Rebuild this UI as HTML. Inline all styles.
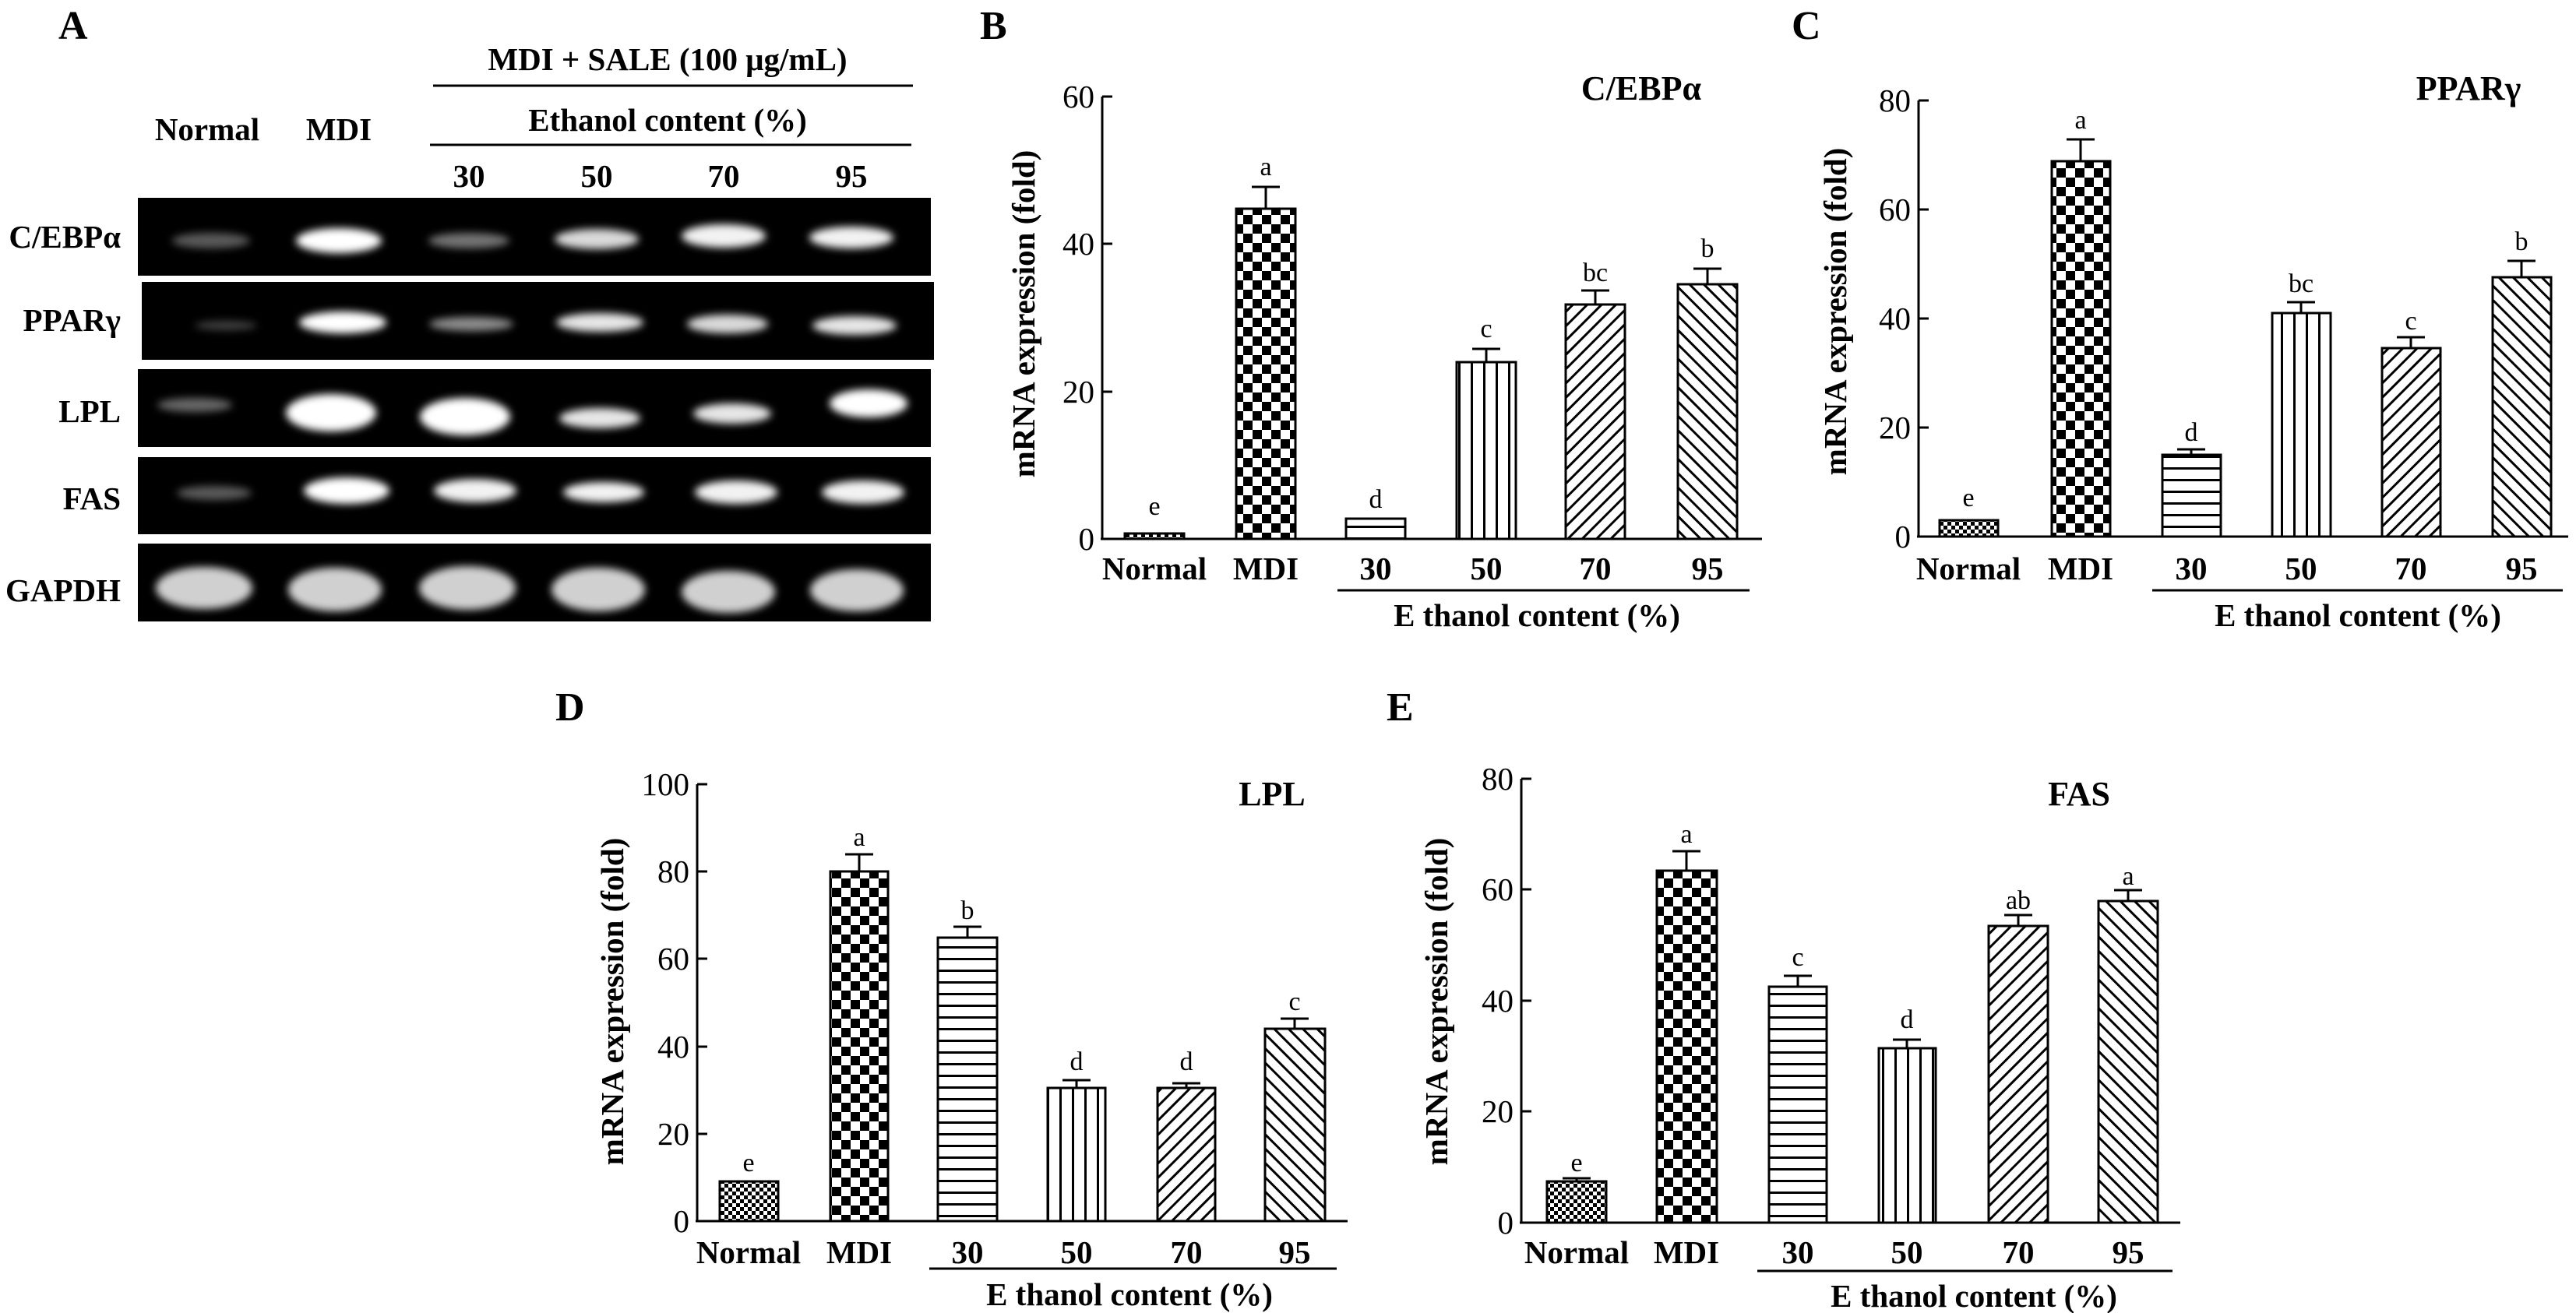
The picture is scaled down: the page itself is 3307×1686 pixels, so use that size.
<!DOCTYPE html>
<html><head><meta charset="utf-8"><style>
html,body{margin:0;padding:0;background:#fff}
svg{display:block}
text{font-family:"Liberation Serif",serif;fill:#000}
.t{font-size:41px}
.b{font-weight:bold}
</style></head><body>
<svg width="3307" height="1686" viewBox="0 0 3307 1686" xmlns="http://www.w3.org/2000/svg">
<defs>
<pattern id="chk" width="24" height="24" patternUnits="userSpaceOnUse"><rect width="24" height="24" fill="#fff"/><rect width="12" height="12" fill="#000"/><rect x="12" y="12" width="12" height="12" fill="#000"/></pattern>
<pattern id="chs" width="10" height="10" patternUnits="userSpaceOnUse"><rect width="10" height="10" fill="#fff"/><rect width="5" height="5" fill="#000"/><rect x="5" y="5" width="5" height="5" fill="#000"/></pattern>
<pattern id="hl" width="20" height="15" patternUnits="userSpaceOnUse"><rect width="20" height="15" fill="#fff"/><rect y="0" width="20" height="3" fill="#000"/></pattern>
<pattern id="vl" width="16" height="20" patternUnits="userSpaceOnUse"><rect width="16" height="20" fill="#fff"/><rect x="0" width="3" height="20" fill="#000"/></pattern>
<pattern id="d1" width="13" height="13" patternUnits="userSpaceOnUse" patternTransform="rotate(45)"><rect width="13" height="13" fill="#fff"/><rect width="3" height="13" fill="#000"/></pattern>
<pattern id="d2" width="13" height="13" patternUnits="userSpaceOnUse" patternTransform="rotate(-45)"><rect width="13" height="13" fill="#fff"/><rect width="3" height="13" fill="#000"/></pattern>
<filter id="bl" x="-30%" y="-60%" width="160%" height="220%"><feGaussianBlur stdDeviation="5"/></filter>
</defs>

<!-- Panel A -->
<text x="75" y="50" font-size="52" class="b">A</text>
<text x="857" y="90" class="t b" text-anchor="middle">MDI + SALE (100 μg/mL)</text>
<line x1="556" y1="110" x2="1172" y2="110" stroke="#000" stroke-width="3"/>
<text x="857" y="168" class="t b" text-anchor="middle">Ethanol content (%)</text>
<line x1="552" y1="186" x2="1170" y2="186" stroke="#000" stroke-width="3"/>
<text x="266" y="180" class="t b" text-anchor="middle">Normal</text>
<text x="435" y="180" class="t b" text-anchor="middle">MDI</text>
<text x="602" y="240" class="t b" text-anchor="middle">30</text>
<text x="766" y="240" class="t b" text-anchor="middle">50</text>
<text x="929" y="240" class="t b" text-anchor="middle">70</text>
<text x="1093" y="240" class="t b" text-anchor="middle">95</text>
<g class="t b" text-anchor="end">
<text x="155" y="318">C/EBPα</text>
<text x="155" y="425">PPARγ</text>
<text x="155" y="542">LPL</text>
<text x="155" y="654">FAS</text>
<text x="155" y="772">GAPDH</text>
</g>
<rect x="177" y="254" width="1018" height="100" fill="#000"/>
<rect x="182" y="362" width="1017" height="100" fill="#000"/>
<rect x="177" y="474" width="1018" height="100" fill="#000"/>
<rect x="177" y="587" width="1018" height="99" fill="#000"/>
<rect x="177" y="698" width="1018" height="100" fill="#000"/>
<g filter="url(#bl)" fill="#fff">
<ellipse cx="271" cy="309" rx="50" ry="10" opacity="0.35"/>
<ellipse cx="435" cy="309" rx="55" ry="16"/>
<ellipse cx="602" cy="309" rx="52" ry="10" opacity="0.45"/>
<ellipse cx="766" cy="307" rx="54" ry="13" opacity="0.85"/>
<ellipse cx="929" cy="303" rx="54" ry="15" opacity="0.95"/>
<ellipse cx="1093" cy="305" rx="54" ry="14" opacity="0.95"/>
<ellipse cx="290" cy="418" rx="40" ry="6" opacity="0.25"/>
<ellipse cx="440" cy="414" rx="56" ry="14"/>
<ellipse cx="605" cy="416" rx="54" ry="9" opacity="0.55"/>
<ellipse cx="770" cy="414" rx="56" ry="12" opacity="0.9"/>
<ellipse cx="934" cy="416" rx="52" ry="12" opacity="0.85"/>
<ellipse cx="1097" cy="418" rx="54" ry="12" opacity="0.9"/>
<ellipse cx="250" cy="520" rx="48" ry="9" opacity="0.4"/>
<ellipse cx="425" cy="530" rx="58" ry="24"/>
<ellipse cx="597" cy="535" rx="58" ry="24"/>
<ellipse cx="770" cy="537" rx="52" ry="13" opacity="0.9"/>
<ellipse cx="940" cy="531" rx="50" ry="13" opacity="0.9"/>
<ellipse cx="1115" cy="518" rx="50" ry="18"/>
<ellipse cx="275" cy="633" rx="48" ry="9" opacity="0.35"/>
<ellipse cx="445" cy="630" rx="55" ry="17"/>
<ellipse cx="610" cy="630" rx="53" ry="15" opacity="0.95"/>
<ellipse cx="775" cy="632" rx="52" ry="13" opacity="0.95"/>
<ellipse cx="945" cy="632" rx="53" ry="15" opacity="0.95"/>
<ellipse cx="1108" cy="632" rx="53" ry="15" opacity="0.95"/>
</g>
<g fill="#d0d0d0" filter="url(#bl)">
<ellipse cx="262" cy="755" rx="62" ry="27"/>
<ellipse cx="430" cy="757" rx="60" ry="28"/>
<ellipse cx="600" cy="755" rx="62" ry="28"/>
<ellipse cx="768" cy="757" rx="60" ry="28"/>
<ellipse cx="935" cy="760" rx="60" ry="27"/>
<ellipse cx="1100" cy="758" rx="60" ry="27"/>
</g>

<!-- Panel B -->
<text x="1258" y="50" font-size="52" class="b">B</text>
<text x="2107" y="128" font-size="44" text-anchor="middle" class="b">C/EBPα</text>
<text transform="translate(1328,403) rotate(-90)" class="t b" text-anchor="middle">mRNA expression (fold)</text>
<g stroke="#000" stroke-width="3">
<line x1="1415" y1="124" x2="1415" y2="692"/><line x1="1413" y1="692" x2="2262" y2="692"/>
<line x1="1415" y1="124" x2="1428" y2="124"/><line x1="1415" y1="313" x2="1428" y2="313"/><line x1="1415" y1="503" x2="1428" y2="503"/>
</g>
<g class="t" text-anchor="end"><text x="1405" y="138">60</text><text x="1405" y="327">40</text><text x="1405" y="517">20</text><text x="1405" y="706">0</text></g>
<g stroke="#000" stroke-width="3">
<rect x="1444" y="685" width="76" height="7" fill="url(#chs)"/>
<line x1="1625" y1="268" x2="1625" y2="240"/><line x1="1607" y1="240" x2="1643" y2="240"/>
<rect x="1587" y="268" width="76" height="424" fill="url(#chk)"/>
<rect x="1728" y="666" width="76" height="26" fill="url(#hl)"/>
<line x1="1908" y1="465" x2="1908" y2="448"/><line x1="1890" y1="448" x2="1926" y2="448"/>
<rect x="1870" y="465" width="76" height="227" fill="url(#vl)"/>
<line x1="2048" y1="391" x2="2048" y2="373"/><line x1="2030" y1="373" x2="2066" y2="373"/>
<rect x="2010" y="391" width="76" height="301" fill="url(#d1)"/>
<line x1="2192" y1="365" x2="2192" y2="345"/><line x1="2174" y1="345" x2="2210" y2="345"/>
<rect x="2154" y="365" width="76" height="327" fill="url(#d2)"/>
</g>
<g font-size="34" text-anchor="middle"><text x="1482" y="661">e</text><text x="1625" y="225">a</text><text x="1766" y="652">d</text><text x="1908" y="433">c</text><text x="2048" y="361">bc</text><text x="2192" y="330">b</text></g>
<g class="t b" text-anchor="middle"><text x="1482" y="744">Normal</text><text x="1625" y="744">MDI</text><text x="1766" y="744">30</text><text x="1908" y="744">50</text><text x="2048" y="744">70</text><text x="2192" y="744">95</text></g>
<line x1="1717" y1="758" x2="2246" y2="758" stroke="#000" stroke-width="3"/>
<text x="1973" y="804" class="t b" text-anchor="middle">E thanol content (%)</text>

<!-- Panel C -->
<text x="2300" y="50" font-size="52" class="b">C</text>
<text x="3169" y="128" font-size="44" text-anchor="middle" class="b">PPARγ</text>
<text transform="translate(2370,400) rotate(-90)" class="t b" text-anchor="middle">mRNA expression (fold)</text>
<g stroke="#000" stroke-width="3">
<line x1="2463" y1="129" x2="2463" y2="689"/><line x1="2461" y1="689" x2="3297" y2="689"/>
<line x1="2463" y1="129" x2="2476" y2="129"/><line x1="2463" y1="269" x2="2476" y2="269"/><line x1="2463" y1="409" x2="2476" y2="409"/><line x1="2463" y1="549" x2="2476" y2="549"/>
</g>
<g class="t" text-anchor="end"><text x="2453" y="143">80</text><text x="2453" y="283">60</text><text x="2453" y="423">40</text><text x="2453" y="563">20</text><text x="2453" y="703">0</text></g>
<g stroke="#000" stroke-width="3">
<rect x="2490" y="668" width="75" height="21" fill="url(#chs)"/>
<line x1="2671" y1="207" x2="2671" y2="179"/><line x1="2653" y1="179" x2="2689" y2="179"/>
<rect x="2634" y="207" width="75" height="482" fill="url(#chk)"/>
<line x1="2813" y1="584" x2="2813" y2="577"/><line x1="2795" y1="577" x2="2831" y2="577"/>
<rect x="2776" y="584" width="75" height="105" fill="url(#hl)"/>
<line x1="2954" y1="402" x2="2954" y2="388"/><line x1="2936" y1="388" x2="2972" y2="388"/>
<rect x="2917" y="402" width="75" height="287" fill="url(#vl)"/>
<line x1="3095" y1="447" x2="3095" y2="433"/><line x1="3077" y1="433" x2="3113" y2="433"/>
<rect x="3058" y="447" width="75" height="242" fill="url(#d1)"/>
<line x1="3237" y1="356" x2="3237" y2="335"/><line x1="3219" y1="335" x2="3255" y2="335"/>
<rect x="3200" y="356" width="75" height="333" fill="url(#d2)"/>
</g>
<g font-size="34" text-anchor="middle"><text x="2527" y="650">e</text><text x="2671" y="165">a</text><text x="2813" y="566">d</text><text x="2954" y="375">bc</text><text x="3095" y="423">c</text><text x="3237" y="321">b</text></g>
<g class="t b" text-anchor="middle"><text x="2527" y="744">Normal</text><text x="2671" y="744">MDI</text><text x="2813" y="744">30</text><text x="2954" y="744">50</text><text x="3095" y="744">70</text><text x="3237" y="744">95</text></g>
<line x1="2763" y1="758" x2="3290" y2="758" stroke="#000" stroke-width="3"/>
<text x="3027" y="804" class="t b" text-anchor="middle">E thanol content (%)</text>

<!-- Panel D -->
<text x="713" y="925" font-size="52" class="b">D</text>
<text x="1633" y="1034" font-size="44" text-anchor="middle" class="b">LPL</text>
<text transform="translate(800,1286) rotate(-90)" class="t b" text-anchor="middle">mRNA expression (fold)</text>
<g stroke="#000" stroke-width="3">
<line x1="895" y1="1007" x2="895" y2="1568"/><line x1="893" y1="1568" x2="1730" y2="1568"/>
<line x1="895" y1="1007" x2="908" y2="1007"/><line x1="895" y1="1119" x2="908" y2="1119"/><line x1="895" y1="1231" x2="908" y2="1231"/><line x1="895" y1="1344" x2="908" y2="1344"/><line x1="895" y1="1456" x2="908" y2="1456"/>
</g>
<g class="t" text-anchor="end"><text x="885" y="1021">100</text><text x="885" y="1133">80</text><text x="885" y="1245">60</text><text x="885" y="1358">40</text><text x="885" y="1470">20</text><text x="885" y="1582">0</text></g>
<g stroke="#000" stroke-width="3">
<rect x="924" y="1517" width="75" height="51" fill="url(#chs)"/>
<line x1="1103" y1="1119" x2="1103" y2="1097"/><line x1="1085" y1="1097" x2="1121" y2="1097"/>
<rect x="1066" y="1119" width="74" height="449" fill="url(#chk)"/>
<line x1="1242" y1="1204" x2="1242" y2="1190"/><line x1="1224" y1="1190" x2="1260" y2="1190"/>
<rect x="1204" y="1204" width="76" height="364" fill="url(#hl)"/>
<line x1="1382" y1="1397" x2="1382" y2="1387"/><line x1="1364" y1="1387" x2="1400" y2="1387"/>
<rect x="1345" y="1397" width="74" height="171" fill="url(#vl)"/>
<line x1="1523" y1="1397" x2="1523" y2="1391"/><line x1="1505" y1="1391" x2="1541" y2="1391"/>
<rect x="1486" y="1397" width="74" height="171" fill="url(#d1)"/>
<line x1="1662" y1="1321" x2="1662" y2="1308"/><line x1="1644" y1="1308" x2="1680" y2="1308"/>
<rect x="1624" y="1321" width="77" height="247" fill="url(#d2)"/>
</g>
<g font-size="34" text-anchor="middle"><text x="961" y="1504">e</text><text x="1103" y="1086">a</text><text x="1242" y="1180">b</text><text x="1382" y="1374">d</text><text x="1523" y="1374">d</text><text x="1662" y="1297">c</text></g>
<g class="t b" text-anchor="middle"><text x="961" y="1622">Normal</text><text x="1103" y="1622">MDI</text><text x="1242" y="1622">30</text><text x="1382" y="1622">50</text><text x="1523" y="1622">70</text><text x="1662" y="1622">95</text></g>
<line x1="1193" y1="1629" x2="1716" y2="1629" stroke="#000" stroke-width="3"/>
<text x="1450" y="1676" class="t b" text-anchor="middle">E thanol content (%)</text>

<!-- Panel E -->
<text x="1780" y="925" font-size="52" class="b">E</text>
<text x="2669" y="1034" font-size="44" text-anchor="middle" class="b">FAS</text>
<text transform="translate(1858,1286) rotate(-90)" class="t b" text-anchor="middle">mRNA expression (fold)</text>
<g stroke="#000" stroke-width="3">
<line x1="1953" y1="1000" x2="1953" y2="1570"/><line x1="1951" y1="1570" x2="2799" y2="1570"/>
<line x1="1953" y1="1000" x2="1966" y2="1000"/><line x1="1953" y1="1142" x2="1966" y2="1142"/><line x1="1953" y1="1285" x2="1966" y2="1285"/><line x1="1953" y1="1427" x2="1966" y2="1427"/>
</g>
<g class="t" text-anchor="end"><text x="1943" y="1014">80</text><text x="1943" y="1156">60</text><text x="1943" y="1299">40</text><text x="1943" y="1441">20</text><text x="1943" y="1584">0</text></g>
<g stroke="#000" stroke-width="3">
<line x1="2024" y1="1517" x2="2024" y2="1513"/><line x1="2006" y1="1513" x2="2042" y2="1513"/>
<rect x="1986" y="1517" width="76" height="53" fill="url(#chs)"/>
<line x1="2165" y1="1118" x2="2165" y2="1093"/><line x1="2147" y1="1093" x2="2183" y2="1093"/>
<rect x="2127" y="1118" width="77" height="452" fill="url(#chk)"/>
<line x1="2308" y1="1267" x2="2308" y2="1253"/><line x1="2290" y1="1253" x2="2326" y2="1253"/>
<rect x="2271" y="1267" width="74" height="303" fill="url(#hl)"/>
<line x1="2448" y1="1346" x2="2448" y2="1335"/><line x1="2430" y1="1335" x2="2466" y2="1335"/>
<rect x="2412" y="1346" width="73" height="224" fill="url(#vl)"/>
<line x1="2591" y1="1189" x2="2591" y2="1175"/><line x1="2573" y1="1175" x2="2609" y2="1175"/>
<rect x="2553" y="1189" width="76" height="381" fill="url(#d1)"/>
<line x1="2732" y1="1157" x2="2732" y2="1143"/><line x1="2714" y1="1143" x2="2750" y2="1143"/>
<rect x="2694" y="1157" width="76" height="413" fill="url(#d2)"/>
</g>
<g font-size="34" text-anchor="middle"><text x="2024" y="1504">e</text><text x="2165" y="1082">a</text><text x="2308" y="1240">c</text><text x="2448" y="1320">d</text><text x="2591" y="1167">ab</text><text x="2732" y="1136">a</text></g>
<g class="t b" text-anchor="middle"><text x="2024" y="1622">Normal</text><text x="2165" y="1622">MDI</text><text x="2308" y="1622">30</text><text x="2448" y="1622">50</text><text x="2591" y="1622">70</text><text x="2732" y="1622">95</text></g>
<line x1="2256" y1="1632" x2="2789" y2="1632" stroke="#000" stroke-width="3"/>
<text x="2534" y="1678" class="t b" text-anchor="middle">E thanol content (%)</text>
</svg>
</body></html>
